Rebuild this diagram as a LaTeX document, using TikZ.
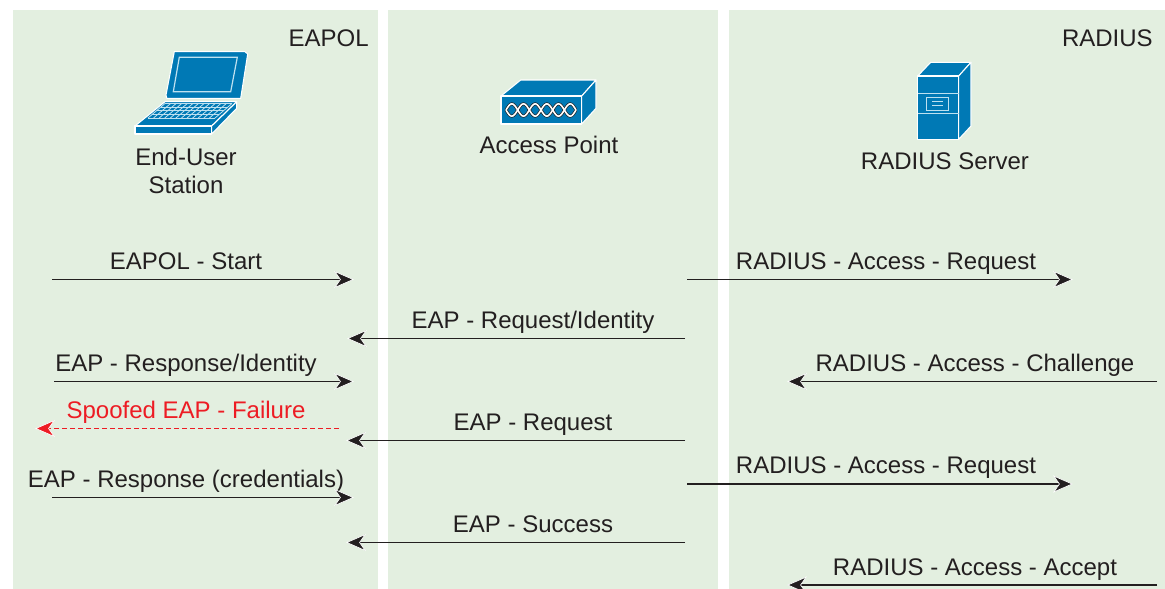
\documentclass[tikz,border=0pt]{standalone}
\usepackage{fontspec}
\setmainfont{Liberation Sans}
\usetikzlibrary{arrows.meta}
\definecolor{panelc}{RGB}{227,239,224}
\definecolor{ink}{RGB}{35,31,32}
\definecolor{alert}{RGB}{237,28,36}
\definecolor{iconc}{RGB}{0,121,181}
\definecolor{iconl}{RGB}{190,225,240}
\tikzset{
  panel/.style={fill=panelc,draw=none},
  lbl/.style={font=\fontsize{18pt}{21pt}\selectfont,text=ink,anchor=base,inner sep=0pt,align=center},
  redlbl/.style={lbl,text=alert},
  msg/.style={draw=ink,line width=1.1pt,-{Stealth[length=15pt,width=13pt,inset=4.5pt,color=white,fill=ink,line width=.5pt]},shorten >=-1.5pt},
  spoof/.style={draw=alert,line width=1.2pt,dash pattern=on 4pt off 2pt,shorten >=-1.5pt,-{Stealth[length=15pt,width=13pt,inset=4.5pt,color=white,fill=alert,line width=.5pt]}},
  iconf/.style={fill=iconc,draw=white,line width=.8pt,line join=round},
  iconline/.style={draw=iconl,line width=.9pt},
  chainb/.style={draw=ink,line width=2.2pt},
  chainw/.style={draw=white,line width=1.2pt},
}
\begin{document}
\begin{tikzpicture}[x=0.75pt,y=-0.75pt]
\useasboundingbox (0,0) rectangle (1165,589);
\fill[white] (0,0) rectangle (1165,589);
\fill[panel] (13,10) rectangle (378,589);
\fill[panel] (388,10) rectangle (718,589);
\fill[panel] (729,10) rectangle (1165,589);

% laptop
\path[iconf] (174.3,51.7)--(245,51.7)--(247.7,54)--(240.7,98.3)--(166.7,98.3)--(166,95)--cycle;
\draw[iconline] (179.3,57.3)--(237.3,57.3)--(230.7,91.7)--(173.3,91.7)--cycle;
\path[iconf] (165,101.7)--(236.7,101.7)--(211.7,126)--(135,126)--cycle;
\path[iconf] (135,126)--(211.7,126)--(211.7,134)--(135,134)--cycle;
\path[iconf] (211.7,126)--(236.7,101.7)--(236.7,108.3)--(211.7,134)--cycle;
\foreach \t in {0,.25,.5,.75,1}
  \draw[iconline,line width=.6pt] ({165-\t*17},{103.5+\t*14.5})--({232-\t*17},{103.5+\t*14.5});
\foreach \s in {0,1,...,12}
  \draw[iconline,line width=.6pt] ({165+\s*67/12},103.5)--({148+\s*67/12},118);

% access point
\path[iconf] (501,96)--(520.7,80)--(596,80)--(581.7,96)--cycle;
\path[iconf] (581.7,96)--(596,80)--(596,108.3)--(581.7,124)--cycle;
\path[iconf] (501,96)--(581.7,96)--(581.7,124)--(501,124)--cycle;
\foreach \sg in {1,-1} \draw[chainb,line join=round,smooth,samples=49,domain=0:70] plot ({506+\x},{110+\sg*6.2*sin(180*\x/11.67)});
\foreach \sg in {1,-1} \draw[chainw,line join=round,smooth,samples=49,domain=0:70] plot ({506+\x},{110+\sg*6.2*sin(180*\x/11.67)});

% server
\path[iconf] (917.7,76)--(930.7,62.3)--(971,62.3)--(958.7,76)--cycle;
\path[iconf] (958.7,76)--(971,62.3)--(971,126)--(958.7,139.3)--cycle;
\path[iconf] (917.7,76)--(958.7,76)--(958.7,139.3)--(917.7,139.3)--cycle;
\draw[iconline] (917.7,93.3)--(958.7,93.3);
\draw[iconline] (917.7,113.3)--(958.7,113.3);
\draw[iconline] (926.7,97.3) rectangle (948.3,110.7);
\draw[iconline] (932.3,101.7)--(943.3,101.7);
\draw[iconline] (932.3,105.7)--(943.3,105.7);

% headings
\node[lbl,anchor=base east] (eapol) at (369,46) {EAPOL};
\node[lbl,anchor=base east] (radius) at (1153,46) {RADIUS};
\node[lbl,anchor=north] (station) at (186,148) {End-User\\Station};
\node[lbl] (ap) at (549,153.5) {Access Point};
\node[lbl] (server) at (945,169.5) {RADIUS Server};

% labels
\node[lbl] (l1) at (186,269) {EAPOL - Start};
\node[lbl] (l2) at (886,269) {RADIUS - Access - Request};
\node[lbl] (l3) at (533,328) {EAP - Request/Identity};
\node[lbl] (l4) at (186,371) {EAP - Response/Identity};
\node[lbl] (l5) at (975,371) {RADIUS - Access - Challenge};
\node[redlbl] (l6) at (186,418) {Spoofed EAP - Failure};
\node[lbl] (l7) at (533,430) {EAP - Request};
\node[lbl] (l8) at (186,487) {EAP - Response (credentials)};
\node[lbl] (l9) at (886,473) {RADIUS - Access - Request};
\node[lbl] (l10) at (533,532) {EAP - Success};
\node[lbl] (l11) at (975,575) {RADIUS - Access - Accept};

% connector ends
\coordinate (a1) at (52,279.5);   \coordinate (b1) at (352,279.5);
\coordinate (a2) at (687,279.5);  \coordinate (b2) at (1071,279.5);
\coordinate (a3) at (685,338.5);  \coordinate (b3) at (349,338.5);
\coordinate (a4) at (54,381.5);   \coordinate (b4) at (352,381.5);
\coordinate (a5) at (1157,381.5); \coordinate (b5) at (789,381.5);
\coordinate (a6) at (339,428.5);  \coordinate (b6) at (37,428.5);
\coordinate (a7) at (685,440.5);  \coordinate (b7) at (348,440.5);
\coordinate (a8) at (52,497.5);   \coordinate (b8) at (352,497.5);
\coordinate (a9) at (687,484);  \coordinate (b9) at (1071,484);
\coordinate (a10) at (685,542.5); \coordinate (b10) at (348,542.5);
\coordinate (a11) at (1157,585);\coordinate (b11) at (789,585);

\foreach \n in {1,2,3,4,5,7,8,9,10,11} \draw[msg] (a\n) -- (b\n);
\draw[spoof] (a6) -- (b6);
\end{tikzpicture}
\end{document}
